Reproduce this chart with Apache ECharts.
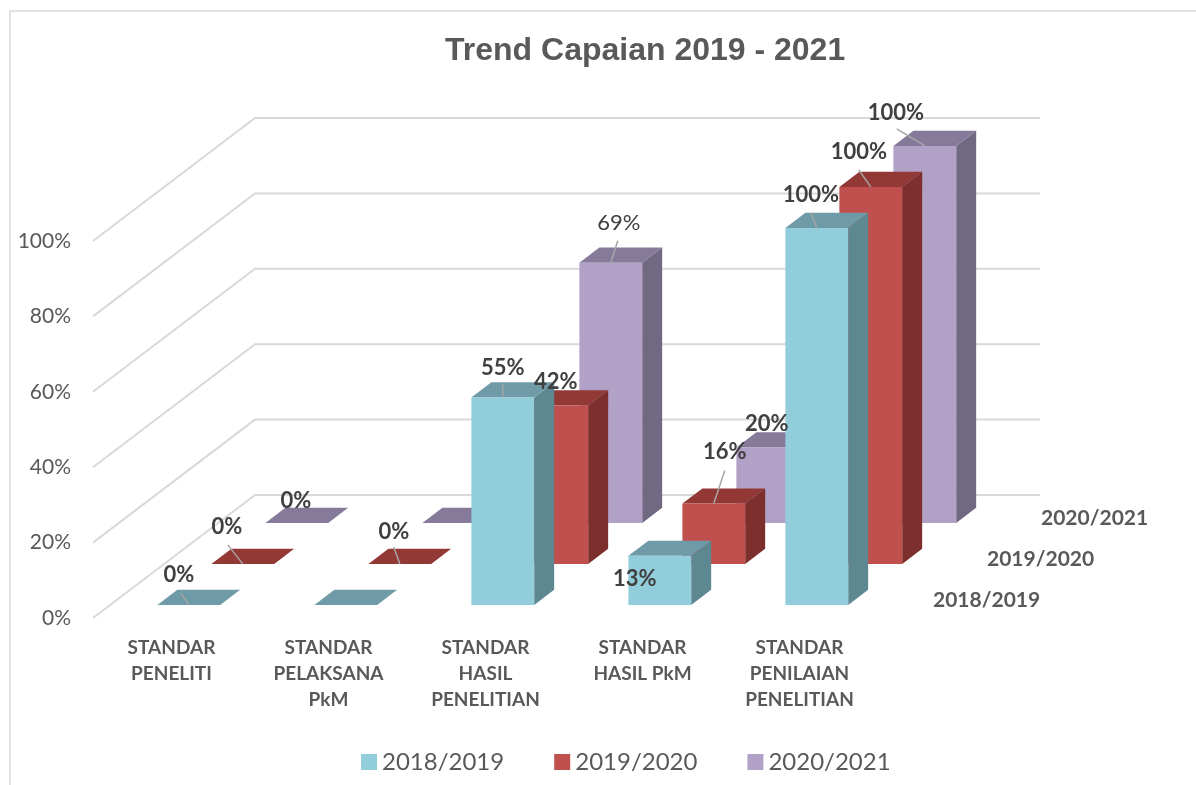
<!DOCTYPE html>
<html lang="id">
<head>
    <meta charset="utf-8">
</head>
<body style="margin: 0; background: #fff">
<div id="main" style="width: 1196px; height: 785px"></div>

<script type="text/javascript" src="https://fastly.jsdelivr.net/npm/echarts@6/dist/echarts.min.js"></script>
<script type="text/javascript">
    var categories = [
        'STANDAR\nPENELITI',
        'STANDAR\nPELAKSANA\nPkM',
        'STANDAR\nHASIL\nPENELITIAN',
        'STANDAR\nHASIL PkM',
        'STANDAR\nPENILAIAN\nPENELITIAN'
    ];
    var seriesNames = ['2018/2019', '2019/2020', '2020/2021'];
    var values2018 = [0, 0, 55, 13, 100];
    var values2019 = [0, 0, 42, 16, 100];
    var values2020 = [0, 0, 69, 20, 100];
    var yTicks = [0, 20, 40, 60, 80, 100];

    var allValues = [values2018, values2019, values2020];

    // front / top / side face colours per series row
    var faces = [
        { front: '#92CDDC', top: '#6E9BA7', side: '#5D8791' },
        { front: '#C0504D', top: '#923936', side: '#7C2F2D' },
        { front: '#B2A1C7', top: '#857A99', side: '#716882' }
    ];

    // fake 3d: one depth row on screen, bar placement inside a row
    var SLOT_X = 54, SLOT_Y = -41;
    var FRONT = 0.32, DEPTH = 0.37, BAR = 0.4;

    // label spot from the top-front centre of a bar: [dx, dy, lineDx, lineDy, bold]
    var labelPlace = [
        [[-10, -30, -8, -12, 1], null, [0, -30, 0, -13, 1], [-25, 23, 0, 0, 1], [-6, -33, -6, -15, 1]],
        [[-16, -37, -15, -19, 1], [-6, -32, -6, -17, 1], [-1, -24, 0, 0, 1], [11, -52, 11, -33, 1], [-12, -35, -12, -17, 1]],
        [[-1, -22, 0, 0, 1], null, [8, -40, 7, -22, 0], [-1, -24, 0, 0, 1], [-29, -33, -28, -17, 1]]
    ];

    var TEXT = '#595959';
    var FONT = 'Lato';

    function rowShift(s) {
        return [SLOT_X * (s + FRONT), SLOT_Y * (s + FRONT)];
    }

    function barRenderer(s) {
        return function (params, api) {
            var cat = api.value(0), v = api.value(1);
            var p0 = api.coord([cat, 0]), p1 = api.coord([cat, v]);
            var bw = api.size([1, 0])[0] * BAR;
            var sh = rowShift(s);
            var tx = SLOT_X * DEPTH, ty = SLOT_Y * DEPTH;
            var x0 = p0[0] - bw / 2 + sh[0], x1 = x0 + bw;
            var yb = p0[1] + sh[1], yt = p1[1] + sh[1];
            var c = faces[s];
            var kids = [
                { type: 'polygon', shape: { points: [[x1, yb], [x1, yt], [x1 + tx, yt + ty], [x1 + tx, yb + ty]] }, style: { fill: c.side } },
                { type: 'polygon', shape: { points: [[x0, yt], [x1, yt], [x1 + tx, yt + ty], [x0 + tx, yt + ty]] }, style: { fill: c.top } }
            ];
            if (yb - yt > 0.5) {
                kids.push({ type: 'rect', shape: { x: x0, y: yt, width: bw, height: yb - yt }, style: { fill: c.front } });
            }
            return { type: 'group', children: kids };
        };
    }

    function renderLabel(params, api) {
        var cat = api.value(0), v = api.value(1), s = api.value(2);
        var place = labelPlace[s][cat];
        if (!place) return;
        var p0 = api.coord([cat, 0]), p1 = api.coord([cat, v]);
        var sh = rowShift(s);
        var cx = p0[0] + sh[0], cy = p1[1] + sh[1];
        var kids = [];
        if (place[2] || place[3]) {
            kids.push({ type: 'line', shape: { x1: cx, y1: cy, x2: cx + place[2], y2: cy + place[3] }, style: { stroke: '#A6A6A6', lineWidth: 1.5 } });
        }
        kids.push({
            type: 'text',
            style: {
                text: v + '%', x: cx + place[0], y: cy + place[1],
                align: 'center', verticalAlign: 'middle',
                fill: '#404040', font: (place[4] ? 'bold ' : '') + '22px ' + FONT
            }
        });
        return { type: 'group', children: kids };
    }

    function renderWall(params, api) {
        var cs = params.coordSys;
        var y = api.coord([0, api.value(1)])[1];
        var bx = cs.x + 3 * SLOT_X, by = y + 3 * SLOT_Y;
        return {
            type: 'polyline',
            shape: { points: [[cs.x, y], [bx, by], [bx + cs.width, by]] },
            style: { stroke: '#D9D9D9', lineWidth: 2, fill: null }
        };
    }

    function renderDepthName(params, api) {
        var cs = params.coordSys;
        var s = params.dataIndex;
        var y0 = api.coord([0, 0])[1];
        return {
            type: 'text',
            style: {
                text: seriesNames[s],
                x: cs.x + cs.width + SLOT_X * (s + 0.5) + 28,
                y: y0 + SLOT_Y * (s + 0.5) + 3,
                align: 'left', verticalAlign: 'middle',
                fill: TEXT, font: 'bold 21px ' + FONT
            }
        };
    }

    var chartDom = document.getElementById('main');
    var myChart = echarts.init(chartDom);

    var series = [{
        type: 'custom',
        renderItem: renderWall,
        silent: true,
        z: 1,
        encode: { x: 0, y: 1 },
        data: yTicks.map(function (v) { return [0, v]; })
    }];
    allValues.forEach(function (vals, s) {
        series.push({
            type: 'custom',
            name: seriesNames[s],
            renderItem: barRenderer(s),
            itemStyle: { color: faces[s].front },
            z: 4 - s,
            encode: { x: 0, y: 1 },
            data: vals.map(function (v, i) { return [i, v]; })
        });
    });
    var labelData = [];
    allValues.forEach(function (vals, s) {
        vals.forEach(function (v, i) { labelData.push([i, v, s]); });
    });
    series.push({
        type: 'custom',
        renderItem: renderLabel,
        silent: true,
        z: 10,
        encode: { x: 0, y: 1 },
        data: labelData
    });
    series.push({
        type: 'custom',
        renderItem: renderDepthName,
        silent: true,
        z: 10,
        encode: { x: 0, y: 1 },
        data: seriesNames.map(function () { return [0, 0]; })
    });

    var option = {
        animation: false,
        graphic: [{
            type: 'rect',
            shape: { x: 10, y: 11, width: 1300, height: 900 },
            style: { fill: null, stroke: '#D9D9D9', lineWidth: 1.5 },
            silent: true
        }],
        title: {
            text: 'Trend Capaian 2019 - 2021',
            left: 440,
            top: 30,
            textStyle: { fontFamily: 'Liberation Sans', fontWeight: 'bold', fontSize: 32, color: TEXT }
        },
        legend: {
            data: seriesNames,
            left: 356,
            top: 745,
            icon: 'rect',
            itemWidth: 16,
            itemHeight: 16,
            itemGap: 50,
            textStyle: { fontFamily: FONT, fontSize: 24, color: TEXT, padding: [0, 0, 0, 0] }
        },
        grid: { left: 93, right: 318, top: 241, bottom: 167 },
        xAxis: {
            type: 'category',
            data: categories,
            axisLine: { show: false },
            axisTick: { show: false },
            splitLine: { show: false },
            axisLabel: {
                interval: 0,
                margin: 17,
                fontFamily: FONT,
                fontWeight: 'bold',
                fontSize: 19,
                lineHeight: 26,
                color: TEXT
            }
        },
        yAxis: {
            type: 'value',
            min: 0,
            max: 100,
            interval: 20,
            axisLine: { show: false },
            axisTick: { show: false },
            splitLine: { show: false },
            axisLabel: { formatter: '{value}%', margin: 22, fontFamily: FONT, fontSize: 21, color: TEXT }
        },
        series: series
    };

    myChart.setOption(option);
</script>
</body>
</html>
